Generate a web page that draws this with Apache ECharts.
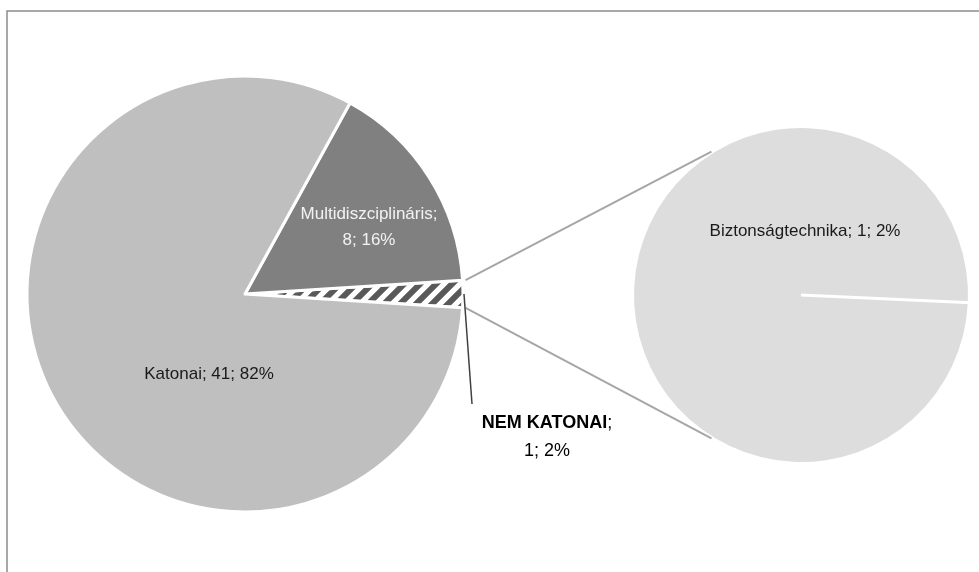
<!DOCTYPE html>
<html>
<head>
<meta charset="utf-8">
<title>Katonai / nem katonai</title>
<script src="https://cdn.jsdelivr.net/npm/echarts@6/dist/echarts.min.js"></script>
<style>
  html, body { margin: 0; padding: 0; background: #fff; }
  #chart { width: 979px; height: 572px; }
</style>
</head>
<body>
<div id="chart"></div>
<script>
// main pie
const mainNames = ['NEM KATONAI', 'Multidiszciplináris', 'Katonai']
const mainValues = [1, 8, 41]
// second pie (breakdown of NEM KATONAI)
const subNames = ['Biztonságtechnika']
const subValues = [1]

const total = mainValues.reduce((a, b) => a + b, 0)

// layout
const mainCenter = [245, 294]
const mainRadius = 218
const subCenter = [801, 295]
const subRadius = 167
const subStartAngle = -2.7 // where the second pie's only slice starts
const seriesLineAngle = 122 // where the series lines touch the second pie
const labelPos = {
  'Katonai': [209, 374],
  'Multidiszciplináris': [369, 227],
  'NEM KATONAI': [547, 437],
  'Biztonságtechnika': [805, 231]
}
const leaderEnd = [472, 404]

// hatch for the split-off slice
function hatch() {
  const c = document.createElement('canvas')
  c.width = 16
  c.height = 16
  const ctx = c.getContext('2d')
  ctx.fillStyle = '#ffffff'
  ctx.fillRect(0, 0, 16, 16)
  ctx.strokeStyle = '#595959'
  ctx.lineWidth = 6
  ctx.beginPath()
  ctx.moveTo(-4, 4); ctx.lineTo(4, -4)
  ctx.moveTo(0, 16); ctx.lineTo(16, 0)
  ctx.moveTo(12, 20); ctx.lineTo(20, 12)
  ctx.stroke()
  return c
}

const mainColors = [{ image: hatch(), repeat: 'repeat' }, '#808080', '#bfbfbf']
const mainLabelColors = ['#000', '#f2f2f2', '#1a1a1a']

const pct = v => Math.round(v / total * 100)
const font = '"Liberation Sans", Arial, sans-serif'

const splitSpan = mainValues[0] / total * 360
const mainStart = -splitSpan / 2

function polar(center, r, deg) {
  const a = deg * Math.PI / 180
  return [center[0] + r * Math.cos(a), center[1] - r * Math.sin(a)]
}

const upperFrom = polar(mainCenter, mainRadius + 3, splitSpan / 2)
const lowerFrom = polar(mainCenter, mainRadius + 3, -splitSpan / 2)
const upperTo = polar(subCenter, subRadius + 2, seriesLineAngle)
const lowerTo = polar(subCenter, subRadius + 2, -seriesLineAngle)
const subEdge = polar(subCenter, subRadius, subStartAngle)
const leaderFrom = polar(mainCenter, mainRadius + 1, 0)

function placeLabel(names) {
  return function (params) {
    const p = labelPos[names[params.dataIndex]]
    return { x: p[0], y: p[1], align: 'center', verticalAlign: 'middle' }
  }
}

const chart = echarts.init(document.getElementById('chart'))

chart.setOption({
  animation: false,
  backgroundColor: '#fff',
  graphic: [
    {
      type: 'rect',
      shape: { x: 7, y: 11, width: 1000, height: 600 },
      style: { fill: 'none', stroke: '#8c8c8c', lineWidth: 1.5 },
      silent: true,
      z: 0
    },
    {
      type: 'line',
      shape: { x1: upperFrom[0], y1: upperFrom[1], x2: upperTo[0], y2: upperTo[1] },
      style: { stroke: '#a6a6a6', lineWidth: 2 },
      silent: true
    },
    {
      type: 'line',
      shape: { x1: lowerFrom[0], y1: lowerFrom[1], x2: lowerTo[0], y2: lowerTo[1] },
      style: { stroke: '#a6a6a6', lineWidth: 2 },
      silent: true
    },
    {
      type: 'line',
      shape: { x1: leaderFrom[0], y1: leaderFrom[1], x2: leaderEnd[0], y2: leaderEnd[1] },
      style: { stroke: '#404040', lineWidth: 1.5 },
      silent: true,
      z: 100
    },
    {
      type: 'line',
      shape: { x1: subCenter[0], y1: subCenter[1], x2: subEdge[0] + 3, y2: subEdge[1] },
      style: { stroke: '#ffffff', lineWidth: 3 },
      silent: true,
      z: 100
    }
  ],
  series: [
    {
      type: 'pie',
      center: mainCenter,
      radius: [0, mainRadius],
      startAngle: mainStart,
      clockwise: false,
      silent: true,
      itemStyle: { borderColor: '#fff', borderWidth: 3 },
      labelLine: { show: false },
      labelLayout: placeLabel(mainNames),
      data: mainNames.map((name, i) => ({
        name: name,
        value: mainValues[i],
        itemStyle: { color: mainColors[i] },
        label: {
          show: true,
          position: i === 0 ? 'outside' : 'inside',
          color: mainLabelColors[i],
          fontFamily: font,
          fontSize: i === 0 ? 18 : 17,
          lineHeight: i === 0 ? 28 : 26,
          formatter: i === 0
            ? '{b|' + name + '};\n' + mainValues[i] + '; ' + pct(mainValues[i]) + '%'
            : name + ';' + (i === 1 ? '\n' : ' ') + mainValues[i] + '; ' + pct(mainValues[i]) + '%',
          rich: {
            b: { fontWeight: 'bold', fontFamily: font, fontSize: 18, lineHeight: 28, color: '#000' }
          }
        }
      }))
    },
    {
      type: 'pie',
      center: subCenter,
      radius: [0, subRadius],
      startAngle: subStartAngle,
      clockwise: false,
      silent: true,
      itemStyle: { color: '#dddddd', borderColor: '#fff', borderWidth: 0 },
      label: {
        show: true,
        position: 'inside',
        color: '#1a1a1a',
        fontFamily: font,
        fontSize: 17,
        formatter: p => p.name + '; ' + p.value + '; ' + pct(p.value) + '%'
      },
      labelLine: { show: false },
      labelLayout: placeLabel(subNames),
      data: subNames.map((name, i) => ({ name: name, value: subValues[i] }))
    }
  ]
})
</script>
</body>
</html>
